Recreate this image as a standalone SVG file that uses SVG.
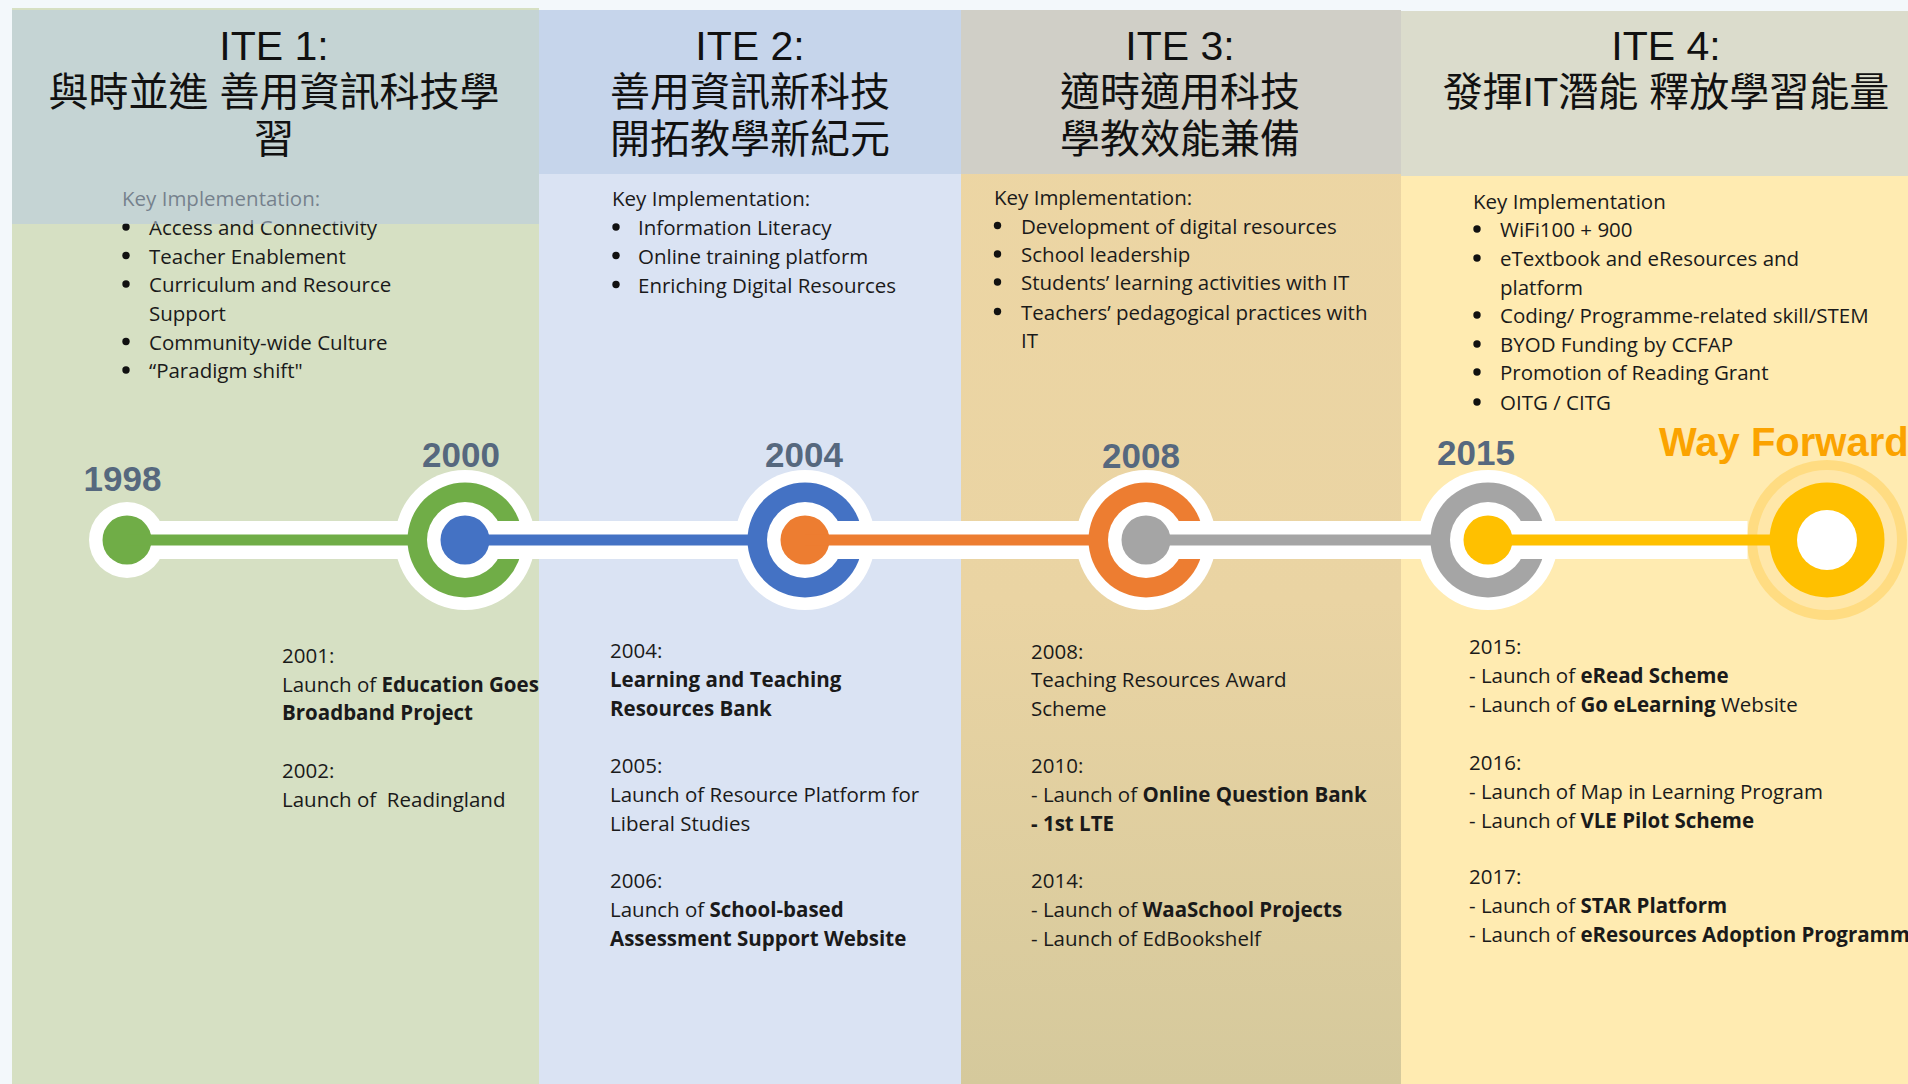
<svg xmlns="http://www.w3.org/2000/svg" width="1908" height="1084" viewBox="0 0 1908 1084">
<style>
.t{font-family:"Open Sans","Liberation Sans",sans-serif;font-size:20.5px;fill:#1a1a1a}
.b{font-weight:700}
.ti{font-family:"Liberation Sans","Noto Sans CJK TC",sans-serif;font-size:41px;fill:#111;text-anchor:middle}
.cj{font-family:"Liberation Sans","Noto Sans CJK TC",sans-serif;font-size:40px;fill:#111;text-anchor:middle}
.yr{font-family:"Liberation Sans",Arial,sans-serif;font-weight:700;font-size:35px;fill:#56687E;text-anchor:middle}
.bu{fill:#111}
.wh{fill:#fff}
</style>
<defs>
<linearGradient id="g3" x1="0" y1="0" x2="0" y2="1">
<stop offset="0" stop-color="#EDD6A4"/>
<stop offset="0.55" stop-color="#EAD4A3"/>
<stop offset="1" stop-color="#D5C99C"/>
</linearGradient>
</defs>
<rect width="1908" height="1084" fill="#F3F8FB"/>

<g id="panel1">
<rect x="12" y="8" width="527" height="1076" fill="#D6E0C3"/>
<text class="t" x="122" y="206">Key Implementation:</text>
<g class="bu"><circle cx="126" cy="227" r="3.7"/><circle cx="126" cy="255.5" r="3.7"/><circle cx="126" cy="284" r="3.7"/><circle cx="126" cy="341.5" r="3.7"/><circle cx="126" cy="370" r="3.7"/></g>
<text class="t" x="149" y="235">Access and Connectivity</text>
<text class="t" x="149" y="263.5">Teacher Enablement</text>
<text class="t" x="149" y="292">Curriculum and Resource</text>
<text class="t" x="149" y="321">Support</text>
<text class="t" x="149" y="349.5">Community-wide Culture</text>
<text class="t" x="149" y="378">“Paradigm shift"</text>
<rect x="12" y="10" width="527" height="214" fill="#B8CBDF" fill-opacity="0.575"/>
<text class="ti" x="274" y="60">ITE 1:</text>
<text class="cj" x="274" y="106">與時並進 善用資訊科技學</text>
<text class="cj" x="274" y="153">習</text>
</g>

<g id="panel2">
<rect x="539" y="10" width="422" height="1074" fill="#DAE3F3"/>
<rect x="539" y="10" width="422" height="164" fill="#C6D5EB"/>
<text class="ti" x="750" y="60">ITE 2:</text>
<text class="cj" x="750" y="106">善用資訊新科技</text>
<text class="cj" x="750" y="153">開拓教學新紀元</text>
<text class="t" x="612" y="206">Key Implementation:</text>
<g class="bu"><circle cx="616" cy="227" r="3.7"/><circle cx="616" cy="255.5" r="3.7"/><circle cx="616" cy="284.5" r="3.7"/></g>
<text class="t" x="638" y="235">Information Literacy</text>
<text class="t" x="638" y="263.5">Online training platform</text>
<text class="t" x="638" y="292.5">Enriching Digital Resources</text>
</g>

<g id="panel3">
<rect x="961" y="10" width="440" height="1074" fill="url(#g3)"/>
<rect x="961" y="10" width="440" height="164" fill="#D0CFC7"/>
<text class="ti" x="1180" y="60">ITE 3:</text>
<text class="cj" x="1180" y="106">適時適用科技</text>
<text class="cj" x="1180" y="153">學教效能兼備</text>
<text class="t" x="994" y="205">Key Implementation:</text>
<g class="bu"><circle cx="997.5" cy="225.5" r="3.7"/><circle cx="997.5" cy="254" r="3.7"/><circle cx="997.5" cy="282" r="3.7"/><circle cx="997.5" cy="311.5" r="3.7"/></g>
<text class="t" x="1021" y="233.5">Development of digital resources</text>
<text class="t" x="1021" y="262">School leadership</text>
<text class="t" x="1021" y="290">Students’ learning activities with IT</text>
<text class="t" x="1021" y="319.5">Teachers’ pedagogical practices with</text>
<text class="t" x="1021" y="348">IT</text>
</g>

<g id="panel4">
<rect x="1401" y="11" width="507" height="1073" fill="#FFEBB1"/>
<rect x="1401" y="11" width="507" height="165" fill="#DBDCCC"/>
<text class="ti" x="1666" y="60">ITE 4:</text>
<text class="cj" x="1666" y="106">發揮IT潛能 釋放學習能量</text>
<text class="t" x="1473" y="208.5">Key Implementation</text>
<g class="bu"><circle cx="1477" cy="229" r="3.7"/><circle cx="1477" cy="258" r="3.7"/><circle cx="1477" cy="315" r="3.7"/><circle cx="1477" cy="344" r="3.7"/><circle cx="1477" cy="372" r="3.7"/><circle cx="1477" cy="402" r="3.7"/></g>
<text class="t" x="1500" y="237">WiFi100 + 900</text>
<text class="t" x="1500" y="266">eTextbook and eResources and</text>
<text class="t" x="1500" y="294.5">platform</text>
<text class="t" x="1500" y="323">Coding/ Programme-related skill/STEM</text>
<text class="t" x="1500" y="352">BYOD Funding by CCFAP</text>
<text class="t" x="1500" y="380">Promotion of Reading Grant</text>
<text class="t" x="1500" y="410">OITG / CITG</text>
</g>

<g id="node1998">
<circle class="wh" cx="127" cy="540" r="38"/>
<circle cx="127" cy="540" r="24.5" fill="#70AD47"/>
<text class="yr" x="122.5" y="491">1998</text>
</g>
<g id="node2000">
<circle class="wh" cx="465" cy="540" r="70"/>
<circle cx="465" cy="540" r="57.5" fill="#70AD47"/>
<circle class="wh" cx="465" cy="540" r="38"/>
<circle cx="465" cy="540" r="24.5" fill="#4472C4"/>
<text class="yr" x="461" y="467">2000</text>
</g>
<g id="node2004">
<circle class="wh" cx="805" cy="540" r="70"/>
<circle cx="805" cy="540" r="57.5" fill="#4472C4"/>
<circle class="wh" cx="805" cy="540" r="38"/>
<circle cx="805" cy="540" r="24.5" fill="#ED7D31"/>
<text class="yr" x="804" y="467">2004</text>
</g>
<g id="node2008">
<circle class="wh" cx="1146" cy="540" r="70"/>
<circle cx="1146" cy="540" r="57.5" fill="#ED7D31"/>
<circle class="wh" cx="1146" cy="540" r="38"/>
<circle cx="1146" cy="540" r="24.5" fill="#A5A5A5"/>
<text class="yr" x="1141" y="468">2008</text>
</g>
<g id="node2015">
<circle class="wh" cx="1488" cy="540" r="70"/>
<circle cx="1488" cy="540" r="57.5" fill="#A5A5A5"/>
<circle class="wh" cx="1488" cy="540" r="38"/>
<circle cx="1488" cy="540" r="24.5" fill="#FFC000"/>
<text class="yr" x="1476" y="465">2015</text>
</g>
<g id="nodeWayForward">
<circle cx="1827" cy="540" r="80" fill="#FFDC82"/>
<circle cx="1827" cy="540" r="70" fill="#FFE7A9"/>
<circle cx="1827" cy="540" r="57.5" fill="#FFC000"/>
<circle class="wh" cx="1827" cy="540" r="30"/>
<text x="1659" y="456" font-family="Liberation Sans, Arial, sans-serif" font-weight="700" font-size="40" fill="#FBA300">Way Forward</text>
</g>

<g id="connectors">
<rect class="wh" x="151" y="521" width="254" height="38"/>
<rect x="127" y="534.5" width="281" height="11" fill="#70AD47"/>
<rect class="wh" x="489.5" y="521" width="256" height="38"/>
<rect x="465" y="534.5" width="283" height="11" fill="#4472C4"/>
<rect class="wh" x="829.5" y="521" width="257" height="38"/>
<rect x="805" y="534.5" width="284" height="11" fill="#ED7D31"/>
<rect class="wh" x="1170.5" y="521" width="258" height="38"/>
<rect x="1146" y="534.5" width="285" height="11" fill="#A5A5A5"/>
<rect class="wh" x="1512.5" y="521" width="235" height="38"/>
<rect x="1488" y="534.5" width="282" height="11" fill="#FFC000"/>
</g>

<g id="events1">
<text class="t" x="282" y="663">2001:</text>
<text class="t" x="282" y="692">Launch of <tspan class="b">Education Goes</tspan></text>
<text class="t b" x="282" y="720">Broadband Project</text>
<text class="t" x="282" y="778">2002:</text>
<text class="t" x="282" y="807">Launch of&#160; Readingland</text>
</g>
<g id="events2">
<text class="t" x="610" y="658">2004:</text>
<text class="t b" x="610" y="687">Learning and Teaching</text>
<text class="t b" x="610" y="716">Resources Bank</text>
<text class="t" x="610" y="773">2005:</text>
<text class="t" x="610" y="802">Launch of Resource Platform for</text>
<text class="t" x="610" y="831">Liberal Studies</text>
<text class="t" x="610" y="888">2006:</text>
<text class="t" x="610" y="917">Launch of <tspan class="b">School-based</tspan></text>
<text class="t b" x="610" y="946">Assessment Support Website</text>
</g>
<g id="events3">
<text class="t" x="1031" y="659">2008:</text>
<text class="t" x="1031" y="687">Teaching Resources Award</text>
<text class="t" x="1031" y="716">Scheme</text>
<text class="t" x="1031" y="773">2010:</text>
<text class="t" x="1031" y="802">- Launch of <tspan class="b">Online Question Bank</tspan></text>
<text class="t b" x="1031" y="831">- 1st LTE</text>
<text class="t" x="1031" y="888">2014:</text>
<text class="t" x="1031" y="917">- Launch of <tspan class="b">WaaSchool Projects</tspan></text>
<text class="t" x="1031" y="946">- Launch of EdBookshelf</text>
</g>
<g id="events4">
<text class="t" x="1469" y="654">2015:</text>
<text class="t" x="1469" y="683">- Launch of <tspan class="b">eRead Scheme</tspan></text>
<text class="t" x="1469" y="712">- Launch of <tspan class="b">Go eLearning</tspan> Website</text>
<text class="t" x="1469" y="770">2016:</text>
<text class="t" x="1469" y="799">- Launch of Map in Learning Program</text>
<text class="t" x="1469" y="828">- Launch of <tspan class="b">VLE Pilot Scheme</tspan></text>
<text class="t" x="1469" y="884">2017:</text>
<text class="t" x="1469" y="913">- Launch of <tspan class="b">STAR Platform</tspan></text>
<text class="t" x="1469" y="942">- Launch of <tspan class="b">eResources Adoption Programme</tspan></text>
</g>
</svg>
